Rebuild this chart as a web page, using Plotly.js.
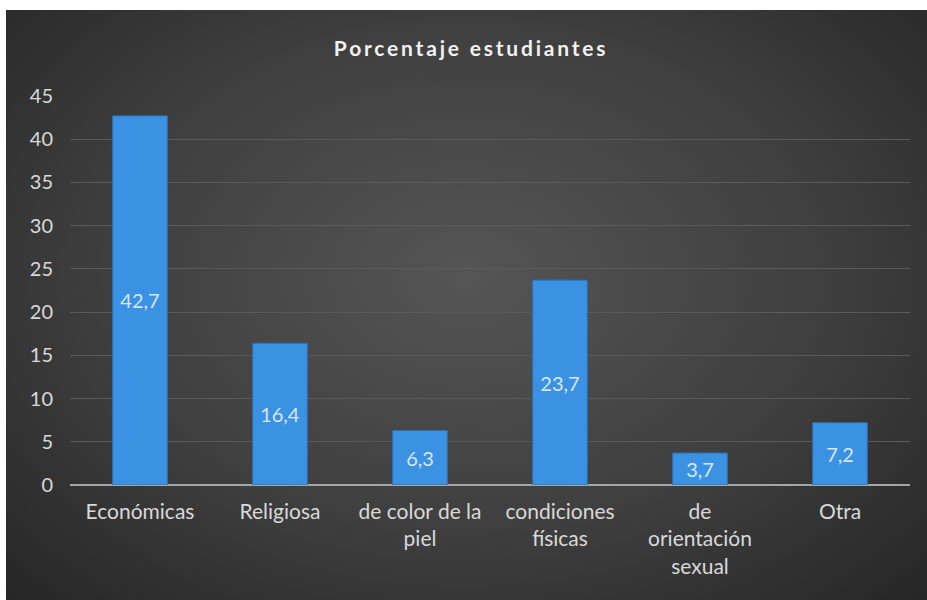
<!DOCTYPE html>
<html>
<head>
<meta charset="utf-8">
<script src="https://cdn.plot.ly/plotly-3.0.1.min.js"></script>
<style>
  html, body { margin: 0; padding: 0; background: #ffffff; width: 927px; height: 600px; overflow: hidden; }
  #chart {
    position: absolute; left: 6px; top: 10px; width: 921px; height: 590px;
    background: radial-gradient(ellipse at 50% 45%, #555555 0%, #3f3f3f 55%, #262626 100%);
  }
  .gtitle { letter-spacing: 2.8px; }
</style>
</head>
<body>
<div id="chart"></div>
<script>
const categories = ["Económicas", "Religiosa", "de color de la<br>piel", "condiciones<br>físicas", "de<br>orientación<br>sexual", "Otra"];
const values = [42.7, 16.4, 6.3, 23.7, 3.7, 7.2];
const yTicks = [0, 5, 10, 15, 20, 25, 30, 35, 40, 45];
const titleText = "Porcentaje estudiantes";

const fontFam = 'Lato, "Open Sans", sans-serif';

const trace = {
  type: 'bar',
  x: categories,
  y: values,
  width: 0.39,
  marker: { color: '#3c92e2', line: { color: '#2b72b8', width: 1 } },
  text: values.map(v => v.toFixed(1).replace('.', ',')),
  textposition: 'inside',
  insidetextanchor: 'middle',
  textangle: 0,
  insidetextfont: { family: fontFam, size: 20, color: '#d6e6f6' },
  hoverinfo: 'none'
};

const layout = {
  width: 921, height: 590,
  paper_bgcolor: 'rgba(0,0,0,0)',
  plot_bgcolor: 'rgba(0,0,0,0)',
  margin: { l: 64, r: 17, t: 86, b: 115 },
  separators: ',.',
  title: {
    text: '<b>' + titleText + '</b>',
    x: 0.505, xanchor: 'center', y: 0.935, yanchor: 'middle',
    font: { family: fontFam, size: 21, color: '#f2f2f2' }
  },
  font: { family: fontFam, color: '#d9d9d9', size: 21 },
  xaxis: {
    type: 'category',
    showgrid: false,
    showline: false,
    zeroline: false,
    tickfont: { family: fontFam, size: 21, color: '#d9d9d9' },
    ticks: '',
    ticklabelstandoff: 12
  },
  yaxis: {
    range: [0, 45],
    tickvals: yTicks,
    ticktext: yTicks.map(String),
    showgrid: true,
    gridcolor: '#5a5a5a',
    gridwidth: 1,
    zeroline: true,
    zerolinecolor: '#a6a6a6',
    zerolinewidth: 2,
    showline: false,
    ticks: '',
    ticklabelstandoff: 16,
    tickfont: { family: fontFam, size: 20, color: '#d9d9d9' }
  },
  bargap: 0.61,
  showlegend: false
};

Plotly.newPlot('chart', [trace], layout, { displayModeBar: false, staticPlot: true });
</script>
</body>
</html>
